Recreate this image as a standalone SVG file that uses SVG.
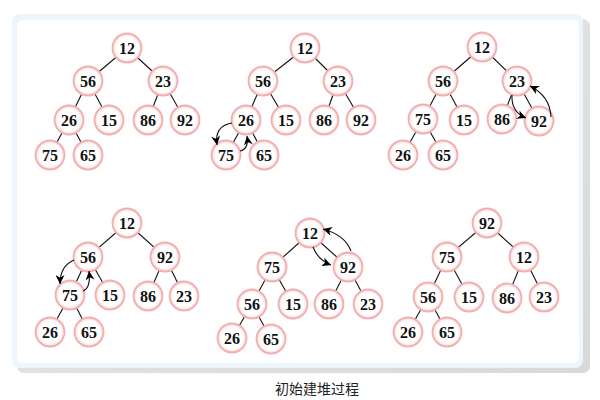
<svg xmlns="http://www.w3.org/2000/svg" width="600" height="400" viewBox="0 0 600 400">
<defs>
<radialGradient id="ng" cx="50%" cy="50%" r="50%">
<stop offset="0%" stop-color="#ffffff"/>
<stop offset="76%" stop-color="#ffffff"/>
<stop offset="100%" stop-color="#fad3d3"/>
</radialGradient>
<linearGradient id="sh" x1="0" y1="0" x2="1" y2="1">
<stop offset="0%" stop-color="#e4e4e4"/>
<stop offset="100%" stop-color="#cfcfcf"/>
</linearGradient>
<marker id="ah" viewBox="0 0 10 10" refX="10" refY="5" markerWidth="10" markerHeight="9" markerUnits="userSpaceOnUse" orient="auto">
<path d="M0,0 L10,5 L0,10 L3,5 z" fill="#000"/>
</marker>
<style>
.n circle{fill:url(#ng);stroke:#f2afaf;stroke-width:1.8}
.n text{font-family:"Liberation Serif","Times New Roman",serif;font-weight:bold;font-size:16px;fill:#111;text-anchor:middle;dominant-baseline:central}
.e line{stroke:#111;stroke-width:1.1}
.a path{fill:none;stroke:#111;stroke-width:1.1;marker-end:url(#ah)}
.cap{font-family:"Noto Sans CJK SC","Noto Sans CJK JP",sans-serif;font-size:14px;fill:#222;text-anchor:middle}
</style>
</defs>
<rect x="0" y="0" width="600" height="400" fill="#fff"/>
<g id="frame">
<rect x="17" y="19" width="573" height="354" rx="7" fill="url(#sh)" opacity="0.8"/>
<rect x="12" y="14" width="571" height="354" rx="8" fill="#edf5fd"/>
<rect x="17" y="20" width="562" height="343" rx="6" fill="#ffffff"/>
</g>
<g id="connectors">
<g class="e">
<line x1="127" y1="48" x2="88" y2="81"/><line x1="127" y1="48" x2="163" y2="81"/>
<line x1="88" y1="81" x2="69" y2="120"/><line x1="88" y1="81" x2="109" y2="120"/>
<line x1="163" y1="81" x2="148" y2="120"/><line x1="163" y1="81" x2="185" y2="120"/>
<line x1="69" y1="120" x2="50" y2="155"/><line x1="69" y1="120" x2="88" y2="155"/>
<line x1="305" y1="48" x2="263" y2="81"/><line x1="305" y1="48" x2="338" y2="81"/>
<line x1="263" y1="81" x2="246" y2="120"/><line x1="263" y1="81" x2="286" y2="120"/>
<line x1="338" y1="81" x2="324" y2="120"/><line x1="338" y1="81" x2="361" y2="120"/>
<line x1="246" y1="120" x2="226" y2="155"/><line x1="246" y1="120" x2="264" y2="155"/>
<line x1="482" y1="47" x2="443" y2="81"/><line x1="482" y1="47" x2="517" y2="81"/>
<line x1="443" y1="81" x2="423" y2="119"/><line x1="443" y1="81" x2="464" y2="120"/>
<line x1="517" y1="81" x2="502" y2="119"/><line x1="517" y1="81" x2="539" y2="121"/>
<line x1="423" y1="119" x2="403" y2="155"/><line x1="423" y1="119" x2="443" y2="155"/>
<line x1="127" y1="223" x2="88" y2="257"/><line x1="127" y1="223" x2="165" y2="257"/>
<line x1="88" y1="257" x2="70" y2="295"/><line x1="88" y1="257" x2="110" y2="295"/>
<line x1="165" y1="257" x2="148" y2="296"/><line x1="165" y1="257" x2="184" y2="296"/>
<line x1="70" y1="295" x2="50" y2="332"/><line x1="70" y1="295" x2="89" y2="332"/>
<line x1="310" y1="233" x2="272" y2="267"/><line x1="310" y1="233" x2="348" y2="267"/>
<line x1="272" y1="267" x2="252" y2="304"/><line x1="272" y1="267" x2="293" y2="304"/>
<line x1="348" y1="267" x2="329" y2="304"/><line x1="348" y1="267" x2="368" y2="304"/>
<line x1="252" y1="304" x2="232" y2="338"/><line x1="252" y1="304" x2="271" y2="339"/>
<line x1="487" y1="223" x2="447" y2="257"/><line x1="487" y1="223" x2="524" y2="257"/>
<line x1="447" y1="257" x2="428" y2="297"/><line x1="447" y1="257" x2="469" y2="297"/>
<line x1="524" y1="257" x2="507" y2="298"/><line x1="524" y1="257" x2="544" y2="297"/>
<line x1="428" y1="297" x2="408" y2="332"/><line x1="428" y1="297" x2="447" y2="332"/>
</g>
</g>
<g id="nodes">
<g id="t1">
<g class="n" id="t1-12"><circle cx="127" cy="48" r="14.5"/><text x="127" y="48">12</text></g>
<g class="n" id="t1-56"><circle cx="88" cy="81" r="14.5"/><text x="88" y="81">56</text></g>
<g class="n" id="t1-23"><circle cx="163" cy="81" r="14.5"/><text x="163" y="81">23</text></g>
<g class="n" id="t1-26"><circle cx="69" cy="120" r="14.5"/><text x="69" y="120">26</text></g>
<g class="n" id="t1-15"><circle cx="109" cy="120" r="14.5"/><text x="109" y="120">15</text></g>
<g class="n" id="t1-86"><circle cx="148" cy="120" r="14.5"/><text x="148" y="120">86</text></g>
<g class="n" id="t1-92"><circle cx="185" cy="120" r="14.5"/><text x="185" y="120">92</text></g>
<g class="n" id="t1-75"><circle cx="50" cy="155" r="14.5"/><text x="50" y="155">75</text></g>
<g class="n" id="t1-65"><circle cx="88" cy="155" r="14.5"/><text x="88" y="155">65</text></g>
</g>
<g id="t2">
<g class="n" id="t2-12"><circle cx="305" cy="48" r="14.5"/><text x="305" y="48">12</text></g>
<g class="n" id="t2-56"><circle cx="263" cy="81" r="14.5"/><text x="263" y="81">56</text></g>
<g class="n" id="t2-23"><circle cx="338" cy="81" r="14.5"/><text x="338" y="81">23</text></g>
<g class="n" id="t2-26"><circle cx="246" cy="120" r="14.5"/><text x="246" y="120">26</text></g>
<g class="n" id="t2-15"><circle cx="286" cy="120" r="14.5"/><text x="286" y="120">15</text></g>
<g class="n" id="t2-86"><circle cx="324" cy="120" r="14.5"/><text x="324" y="120">86</text></g>
<g class="n" id="t2-92"><circle cx="361" cy="120" r="14.5"/><text x="361" y="120">92</text></g>
<g class="n" id="t2-75"><circle cx="226" cy="155" r="14.5"/><text x="226" y="155">75</text></g>
<g class="n" id="t2-65"><circle cx="264" cy="155" r="14.5"/><text x="264" y="155">65</text></g>
</g>
<g id="t3">
<g class="n" id="t3-12"><circle cx="482" cy="47" r="14.5"/><text x="482" y="47">12</text></g>
<g class="n" id="t3-56"><circle cx="443" cy="81" r="14.5"/><text x="443" y="81">56</text></g>
<g class="n" id="t3-23"><circle cx="517" cy="81" r="14.5"/><text x="517" y="81">23</text></g>
<g class="n" id="t3-75"><circle cx="423" cy="119" r="14.5"/><text x="423" y="119">75</text></g>
<g class="n" id="t3-15"><circle cx="464" cy="120" r="14.5"/><text x="464" y="120">15</text></g>
<g class="n" id="t3-86"><circle cx="502" cy="119" r="14.5"/><text x="502" y="119">86</text></g>
<g class="n" id="t3-92"><circle cx="539" cy="121" r="14.5"/><text x="539" y="121">92</text></g>
<g class="n" id="t3-26"><circle cx="403" cy="155" r="14.5"/><text x="403" y="155">26</text></g>
<g class="n" id="t3-65"><circle cx="443" cy="155" r="14.5"/><text x="443" y="155">65</text></g>
</g>
<g id="t4">
<g class="n" id="t4-12"><circle cx="127" cy="223" r="14.5"/><text x="127" y="223">12</text></g>
<g class="n" id="t4-56"><circle cx="88" cy="257" r="14.5"/><text x="88" y="257">56</text></g>
<g class="n" id="t4-92"><circle cx="165" cy="257" r="14.5"/><text x="165" y="257">92</text></g>
<g class="n" id="t4-75"><circle cx="70" cy="295" r="14.5"/><text x="70" y="295">75</text></g>
<g class="n" id="t4-15"><circle cx="110" cy="295" r="14.5"/><text x="110" y="295">15</text></g>
<g class="n" id="t4-86"><circle cx="148" cy="296" r="14.5"/><text x="148" y="296">86</text></g>
<g class="n" id="t4-23"><circle cx="184" cy="296" r="14.5"/><text x="184" y="296">23</text></g>
<g class="n" id="t4-26"><circle cx="50" cy="332" r="14.5"/><text x="50" y="332">26</text></g>
<g class="n" id="t4-65"><circle cx="89" cy="332" r="14.5"/><text x="89" y="332">65</text></g>
</g>
<g id="t5">
<g class="n" id="t5-12"><circle cx="310" cy="233" r="14.5"/><text x="310" y="233">12</text></g>
<g class="n" id="t5-75"><circle cx="272" cy="267" r="14.5"/><text x="272" y="267">75</text></g>
<g class="n" id="t5-92"><circle cx="348" cy="267" r="14.5"/><text x="348" y="267">92</text></g>
<g class="n" id="t5-56"><circle cx="252" cy="304" r="14.5"/><text x="252" y="304">56</text></g>
<g class="n" id="t5-15"><circle cx="293" cy="304" r="14.5"/><text x="293" y="304">15</text></g>
<g class="n" id="t5-86"><circle cx="329" cy="304" r="14.5"/><text x="329" y="304">86</text></g>
<g class="n" id="t5-23"><circle cx="368" cy="304" r="14.5"/><text x="368" y="304">23</text></g>
<g class="n" id="t5-26"><circle cx="232" cy="338" r="14.5"/><text x="232" y="338">26</text></g>
<g class="n" id="t5-65"><circle cx="271" cy="339" r="14.5"/><text x="271" y="339">65</text></g>
</g>
<g id="t6">
<g class="n" id="t6-92"><circle cx="487" cy="223" r="14.5"/><text x="487" y="223">92</text></g>
<g class="n" id="t6-75"><circle cx="447" cy="257" r="14.5"/><text x="447" y="257">75</text></g>
<g class="n" id="t6-12"><circle cx="524" cy="257" r="14.5"/><text x="524" y="257">12</text></g>
<g class="n" id="t6-56"><circle cx="428" cy="297" r="14.5"/><text x="428" y="297">56</text></g>
<g class="n" id="t6-15"><circle cx="469" cy="297" r="14.5"/><text x="469" y="297">15</text></g>
<g class="n" id="t6-86"><circle cx="507" cy="298" r="14.5"/><text x="507" y="298">86</text></g>
<g class="n" id="t6-23"><circle cx="544" cy="297" r="14.5"/><text x="544" y="297">23</text></g>
<g class="n" id="t6-26"><circle cx="408" cy="332" r="14.5"/><text x="408" y="332">26</text></g>
<g class="n" id="t6-65"><circle cx="447" cy="332" r="14.5"/><text x="447" y="332">65</text></g>
</g>
</g>
<g id="swap-arrows" class="a">
<path d="M232,123 Q214,126 217,145"/>
<path d="M240,151 Q249,149 247,136"/>
<path d="M512,95 Q511,112 526,118"/>
<path d="M551,117 Q550,96 530,86"/>
<path d="M74,260 Q60,266 60,284"/>
<path d="M83,291 Q91,288 89,271"/>
<path d="M313,247 Q318,260 331,265"/>
<path d="M351,251 Q345,235 323,229"/>
</g>
<text class="cap" x="317" y="394">初始建堆过程</text>
</svg>
